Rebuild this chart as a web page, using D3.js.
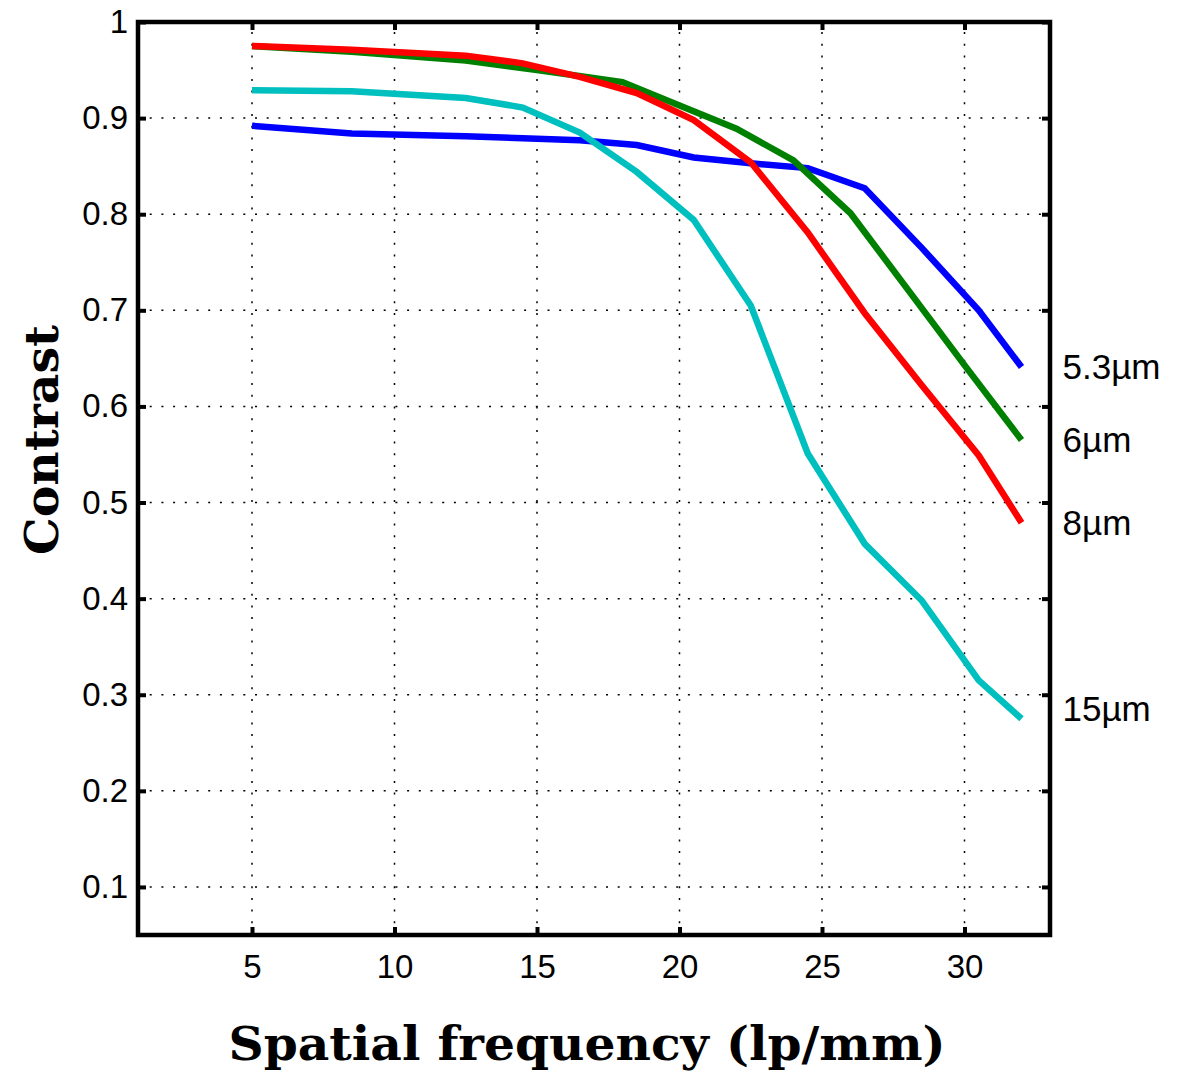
<!DOCTYPE html>
<html lang="en">
<head>
<meta charset="utf-8">
<style>
	body { margin: 0; background: #fff; }
	.tick text { font-family: "Liberation Sans", Arial, sans-serif; font-size: 33px; fill: #000; }
	.grid line { stroke: #000; stroke-width: 1.5; stroke-dasharray: 2,9.7; }
	.title { font-family: "DejaVu Serif", serif; font-weight: bold; font-size: 46px; }
	.lab { font-family: "Liberation Sans", Arial, sans-serif; font-size: 35px; }
</style>
</head>
<body>
<svg width="1177" height="1074"></svg>
<script src="https://d3js.org/d3.v7.min.js"></script>
<script>
	// sampled frequencies (lp/mm)
	var freqs = [5, 8.5, 12.5, 14.5, 16.5, 18.5, 20.5, 22.5, 24.5, 26.5, 28.5, 30.5, 32];
	var freqsGreen = [5, 8.5, 12.5, 15, 18, 20, 22, 24, 26, 28, 30, 32];

	var c53 = [0.892, 0.884, 0.881, 0.879, 0.877, 0.872, 0.859, 0.853, 0.848, 0.827, 0.765, 0.700, 0.641];
	var c6  = [0.975, 0.969, 0.960, 0.950, 0.9375, 0.913, 0.889, 0.856, 0.801, 0.722, 0.643, 0.565];
	var c8  = [0.975, 0.971, 0.965, 0.957, 0.943, 0.926, 0.898, 0.854, 0.781, 0.697, 0.622, 0.549, 0.479];
	var c15 = [0.929, 0.928, 0.921, 0.911, 0.885, 0.844, 0.794, 0.705, 0.551, 0.457, 0.398, 0.315, 0.275];

	var labels = ["5.3\u00b5m", "6\u00b5m", "8\u00b5m", "15\u00b5m"];
	var xTicks = [5, 10, 15, 20, 25, 30];
	var yTicks = [0.1, 0.2, 0.3, 0.4, 0.5, 0.6, 0.7, 0.8, 0.9, 1];

	var series = [
		{ name: labels[0], x: freqs, y: c53, color: "#0000ff" },
		{ name: labels[1], x: freqsGreen, y: c6, color: "#008000" },
		{ name: labels[2], x: freqs, y: c8, color: "#ff0000" },
		{ name: labels[3], x: freqs, y: c15, color: "#00bfbf" }
	];

	var svg = d3.select("svg");
	var pLeft = 138, pRight = 1050, pTop = 22, pBottom = 935;

	var x = d3.scaleLinear().domain([1, 33]).range([pLeft, pRight]);
	var y = d3.scaleLinear().domain([0.05, 1]).range([pBottom, pTop]);

	// dotted grid
	var grid = svg.append("g").attr("class", "grid");
	grid.selectAll(".vx").data(xTicks).enter().append("line")
		.attr("x1", function(d) { return x(d); }).attr("x2", function(d) { return x(d); })
		.attr("y1", pBottom).attr("y2", pTop);
	grid.selectAll(".hy").data(yTicks).enter().append("line")
		.attr("x1", pLeft).attr("x2", pRight)
		.attr("y1", function(d) { return y(d); }).attr("y2", function(d) { return y(d); });

	// curves
	var line = d3.line()
		.x(function(d) { return x(d[0]); })
		.y(function(d) { return y(d[1]); });

	series.forEach(function(s, i) {
		var pts = s.x.map(function(v, j) { return [v, s.y[j]]; });
		svg.append("path")
			.attr("d", line(pts))
			.attr("fill", "none")
			.attr("stroke", s.color)
			.attr("stroke-width", 6.5);
		// label sits at the curve's end value (15um one a bit higher, as in the original)
		svg.append("text")
			.attr("class", "lab")
			.attr("x", x(32) + 41)
			.attr("y", y(s.y[s.y.length - 1]))
			.attr("dy", i == 3 ? "0.05em" : "0.35em")
			.text(s.name);
	});

	// axes, ticks pointing inward on all four sides
	function styleAxis(g) {
		g.select(".domain").remove();
		g.selectAll(".tick line").attr("stroke", "#000").attr("stroke-width", 4);
	}
	svg.append("g").attr("transform", "translate(0," + pBottom + ")")
		.call(d3.axisBottom(x).tickValues(xTicks).tickSize(-8).tickPadding(20))
		.call(styleAxis);
	svg.append("g").attr("transform", "translate(0," + pTop + ")")
		.call(d3.axisTop(x).tickValues(xTicks).tickSize(-8).tickFormat(""))
		.call(styleAxis);
	svg.append("g").attr("transform", "translate(" + pLeft + ",0)")
		.call(d3.axisLeft(y).tickValues(yTicks).tickSize(-8).tickPadding(10).tickFormat(function(d) { return d === 1 ? "1" : d3.format(".1f")(d); }))
		.call(styleAxis);
	svg.append("g").attr("transform", "translate(" + pRight + ",0)")
		.call(d3.axisRight(y).tickValues(yTicks).tickSize(-8).tickFormat(""))
		.call(styleAxis);

	// box
	svg.append("rect")
		.attr("x", pLeft).attr("y", pTop)
		.attr("width", pRight - pLeft).attr("height", pBottom - pTop)
		.attr("fill", "none").attr("stroke", "#000").attr("stroke-width", 4.5);

	svg.append("text")
		.attr("class", "title")
		.attr("x", 587).attr("y", 1060)
		.attr("text-anchor", "middle")
		.attr("textLength", 717).attr("lengthAdjust", "spacingAndGlyphs")
		.text("Spatial frequency (lp/mm)");

	svg.append("text")
		.attr("class", "title")
		.attr("transform", "translate(58,440) rotate(-90)")
		.attr("text-anchor", "middle")
		.attr("textLength", 230).attr("lengthAdjust", "spacingAndGlyphs")
		.text("Contrast");
</script>
</body>
</html>
